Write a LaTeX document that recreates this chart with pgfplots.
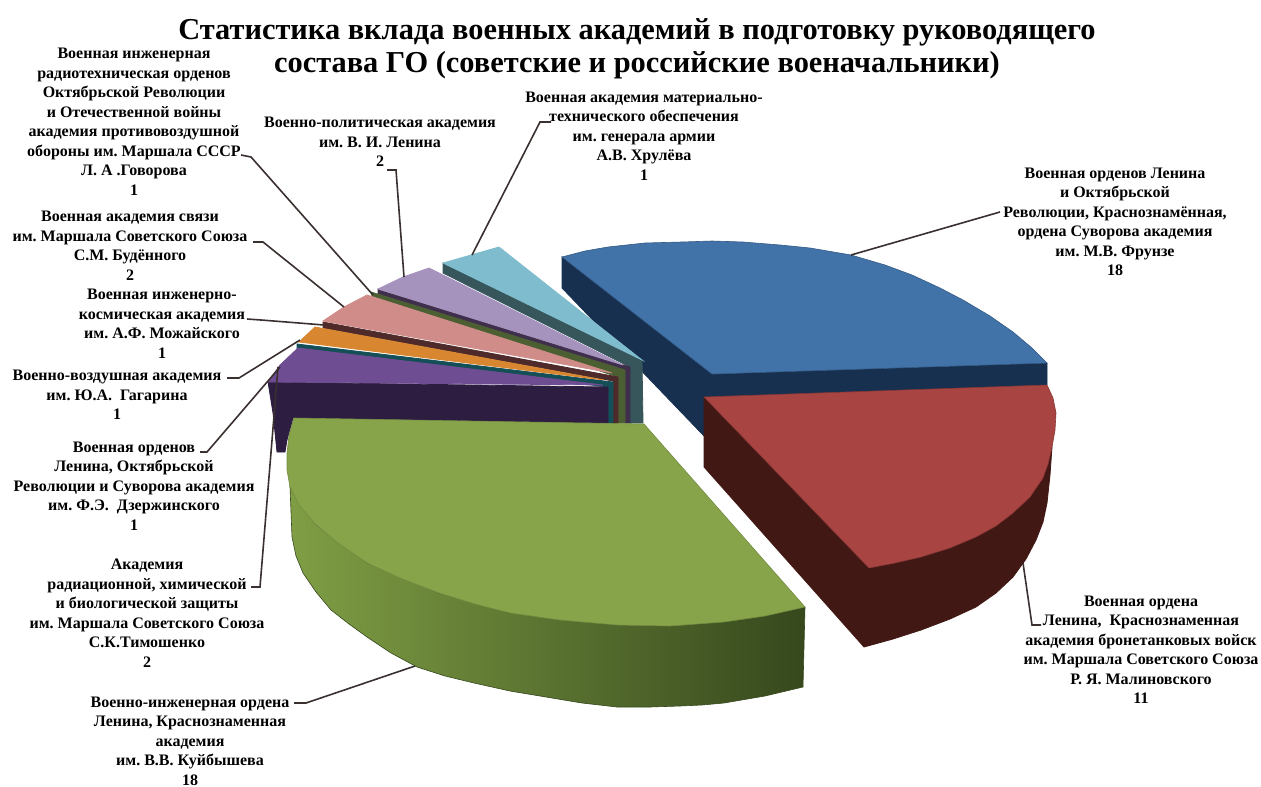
\documentclass[border=0pt]{standalone}
\usepackage{fontspec}
\setmainfont{Liberation Serif}
\usepackage{pgfplots}
\pgfplotsset{compat=1.18}
\definecolor{blT}{HTML}{4172A8}\definecolor{blS}{HTML}{18304F}
\definecolor{rdT}{HTML}{A84442}\definecolor{rdS}{HTML}{421815}
\definecolor{grT}{HTML}{87A44B}\definecolor{grA}{HTML}{7F9E44}\definecolor{grB}{HTML}{556B2F}\definecolor{grC}{HTML}{36481D}
\definecolor{ltT}{HTML}{7FBCCD}\definecolor{ltS}{HTML}{36565C}
\definecolor{liT}{HTML}{A592BD}\definecolor{liS}{HTML}{3F2F4D}
\definecolor{olS}{HTML}{4C5F33}
\definecolor{piT}{HTML}{CF8C89}\definecolor{piS}{HTML}{4F2A2A}
\definecolor{orT}{HTML}{D8862F}\definecolor{orS}{HTML}{144E57}
\definecolor{puT}{HTML}{6F4D92}\definecolor{puS}{HTML}{2D1D40}
\definecolor{ld}{HTML}{3A3030}
\tikzset{
  lab/.style={align=center, inner sep=0pt, font=\fontsize{8}{9.75}\selectfont\bfseries\frenchspacing, text=black},
  ldr/.style={draw=ld, line width=0.8pt},
}
\begin{document}
\begin{tikzpicture}
\begin{axis}[
  scale only axis, width=630.5pt, height=393pt,
  xmin=0, xmax=1261, ymin=0, ymax=786, y dir=reverse,
  axis lines=none, clip=false,
]
\path[use as bounding box] (axis cs:0,0) rectangle (axis cs:1261,786);
% blue
\addplot[fill=blS, draw=blS] coordinates {(562,257)(712,374)(1047,363)(1047,385)(704,400)(704,436)(562,288)} -- cycle;
\addplot[fill=blT, draw=blT!80!black, line width=0.3pt] coordinates {(562,257)(585,251)(608,247)(645,243)(682,242)(712,241)(743,242)(780,245)(810,248)(851,255)(885,265)(912,275)(940,288)(963,300)(990,316)(1013,332)(1032,348)(1047,363)(712,374)} -- cycle;
% red
\addplot[fill=rdS, draw=rdS] coordinates {(704,397)(1052,447)(1050,475)(1047,503)(1043,522)(1036,540)(1026,559)(1013,577)(996,593)(976,607)(950,619)(921,630)(893,639)(864,647)(704,467)} -- cycle;
\addplot[fill=rdT, draw=rdT!80!black, line width=0.3pt] coordinates {(704,397)(1047,385)(1053,398)(1056,413)(1055,430)(1052,447)(1048,464)(1043,478)(1030,497)(1013,513)(996,526)(976,537)(950,548)(921,557)(895,563)(869,568)} -- cycle;
% fan: light blue
\addplot[fill=ltS, draw=ltS] coordinates {(443,263)(642,360)(643,423)(630,423)(630,367)(443,273)} -- cycle;
\addplot[fill=ltT, draw=ltT] coordinates {(443,263)(471,255)(499,247)(642,360)} -- cycle;
% lilac
\addplot[fill=liS, draw=liS] coordinates {(378,289)(630,367)(630,423)(625,423)(625,372)(378,294)} -- cycle;
\addplot[fill=liT, draw=liT] coordinates {(378,289)(403,277)(429,268)(623,365)} -- cycle;
% olive strip
\addplot[fill=olS, draw=olS] coordinates {(371,292)(625,370)(625,423)(618,423)(618,377)(372,296)} -- cycle;
% pink
\addplot[fill=piS, draw=piS] coordinates {(323,322)(618,377)(618,423)(613,423)(613,381)(323,328)} -- cycle;
\addplot[fill=piT, draw=piT] coordinates {(323,321)(344,307)(367,295)(612,373)} -- cycle;
% orange
\addplot[fill=orS, draw=orS] coordinates {(297,344)(613,382)(613,423)(608,423)(608,387)(297,349)} -- cycle;
\addplot[fill=orT, draw=orT] coordinates {(299,342)(315,327)(604,380)} -- cycle;
% purple
\addplot[fill=puS, draw=puS] coordinates {(268,382)(608,387)(608,423)(293,418)(287,440)(285,452)(277,452)(273,413)} -- cycle;
\addplot[fill=puT, draw=puT] coordinates {(268,382)(280,365)(298,348)(603,385)} -- cycle;
% green
\addplot[left color=grA, middle color=grB, right color=grC, draw=grC, line width=0.3pt] coordinates {(290,487)(291,512)(292,537)(296,556)(303,573)(316,592)(331,610)(349,624)(367,637)(391,653)(417,667)(445,676)(474,683)(510,691)(546,697)(582,703)(617,707)(650,707)(680,706)(702,705)(724,703)(765,696)(803,687)(805,607)(724,622)(617,625)(510,613)(439,593)(367,563)(314,523)} -- cycle;
\addplot[fill=grT, draw=grT!85!black, line width=0.3pt] coordinates {(294,418)(644,424)(805,607)(765,616)(724,622)(670,626)(617,625)(560,620)(510,613)(475,604)(439,593)(400,578)(367,563)(338,543)(314,523)(299,505)(290,487)(287,470)(287,453)(289,435)} -- cycle;
% leaders
\addplot[ldr] coordinates {(241,155)(251,157)(373,295)};
\addplot[ldr] coordinates {(387,170)(396,170)(404,277)};
\addplot[ldr] coordinates {(551,122)(540,122)(472,255)};
\addplot[ldr] coordinates {(253,242)(263,242)(344,307)};
\addplot[ldr] coordinates {(247,319)(261,320)(324,325)};
\addplot[ldr] coordinates {(227,378)(239,378)(300,340)};
\addplot[ldr] coordinates {(200,452)(207,452)(280,367)};
\addplot[ldr] coordinates {(251,587)(260,587)(278,367)};
\addplot[ldr] coordinates {(294,703)(306,703)(415,666)};
\addplot[ldr] coordinates {(1000,212)(851,255)};
\addplot[ldr] coordinates {(1041,625)(1032,625)(1023,563)};
% title
\node[align=center, inner sep=0pt, font=\fontsize{15.2}{16.5}\selectfont\bfseries] at (637,49) {Статистика вклада военных академий в подготовку руководящего\\состава ГО (советские и российские военачальники)};
% labels
\node[lab] at (134,122) {Военная инженерная\\радиотехническая орденов\\Октябрьской Революции\\и Отечественной войны\\академия противовоздушной\\обороны им. Маршала СССР\\Л. А .Говорова\\1};
\node[lab] at (380,142) {Военно-политическая академия\\им. В. И. Ленина\\2};
\node[lab] at (644,136) {Военная академия материально-\\технического обеспечения\\им. генерала армии\\А.В. Хрулёва\\1};
\node[lab] at (1115,222) {Военная орденов Ленина\\и Октябрьской\\Революции, Краснознамённая,\\ордена Суворова академия\\им. М.В. Фрунзе\\18};
\node[lab] at (1141,650) {Военная ордена\\Ленина,\ \ Краснознаменная\\академия бронетанковых войск\\им. Маршала Советского Союза\\Р. Я. Малиновского\\11};
\node[lab] at (130,246) {Военная академия связи\\им. Маршала Советского Союза\\С.М. Будённого\\2};
\node[lab] at (162,324) {Военная инженерно-\\космическая академия\\им. А.Ф. Можайского\\1};
\node[lab] at (117,395) {Военно-воздушная академия\\им. Ю.А.\ \ Гагарина\\1};
\node[lab] at (134,486) {Военная орденов\\Ленина, Октябрьской\\Революции и Суворова академия\\им. Ф.Э.\ \ Дзержинского\\1};
\node[lab] at (147,613) {Академия\\радиационной, химической\\и биологической защиты\\им. Маршала Советского Союза\\С.К.Тимошенко\\2};
\node[lab] at (190,741) {Военно-инженерная ордена\\Ленина, Краснознаменная\\академия\\им. В.В. Куйбышева\\18};
\end{axis}
\end{tikzpicture}
\end{document}
